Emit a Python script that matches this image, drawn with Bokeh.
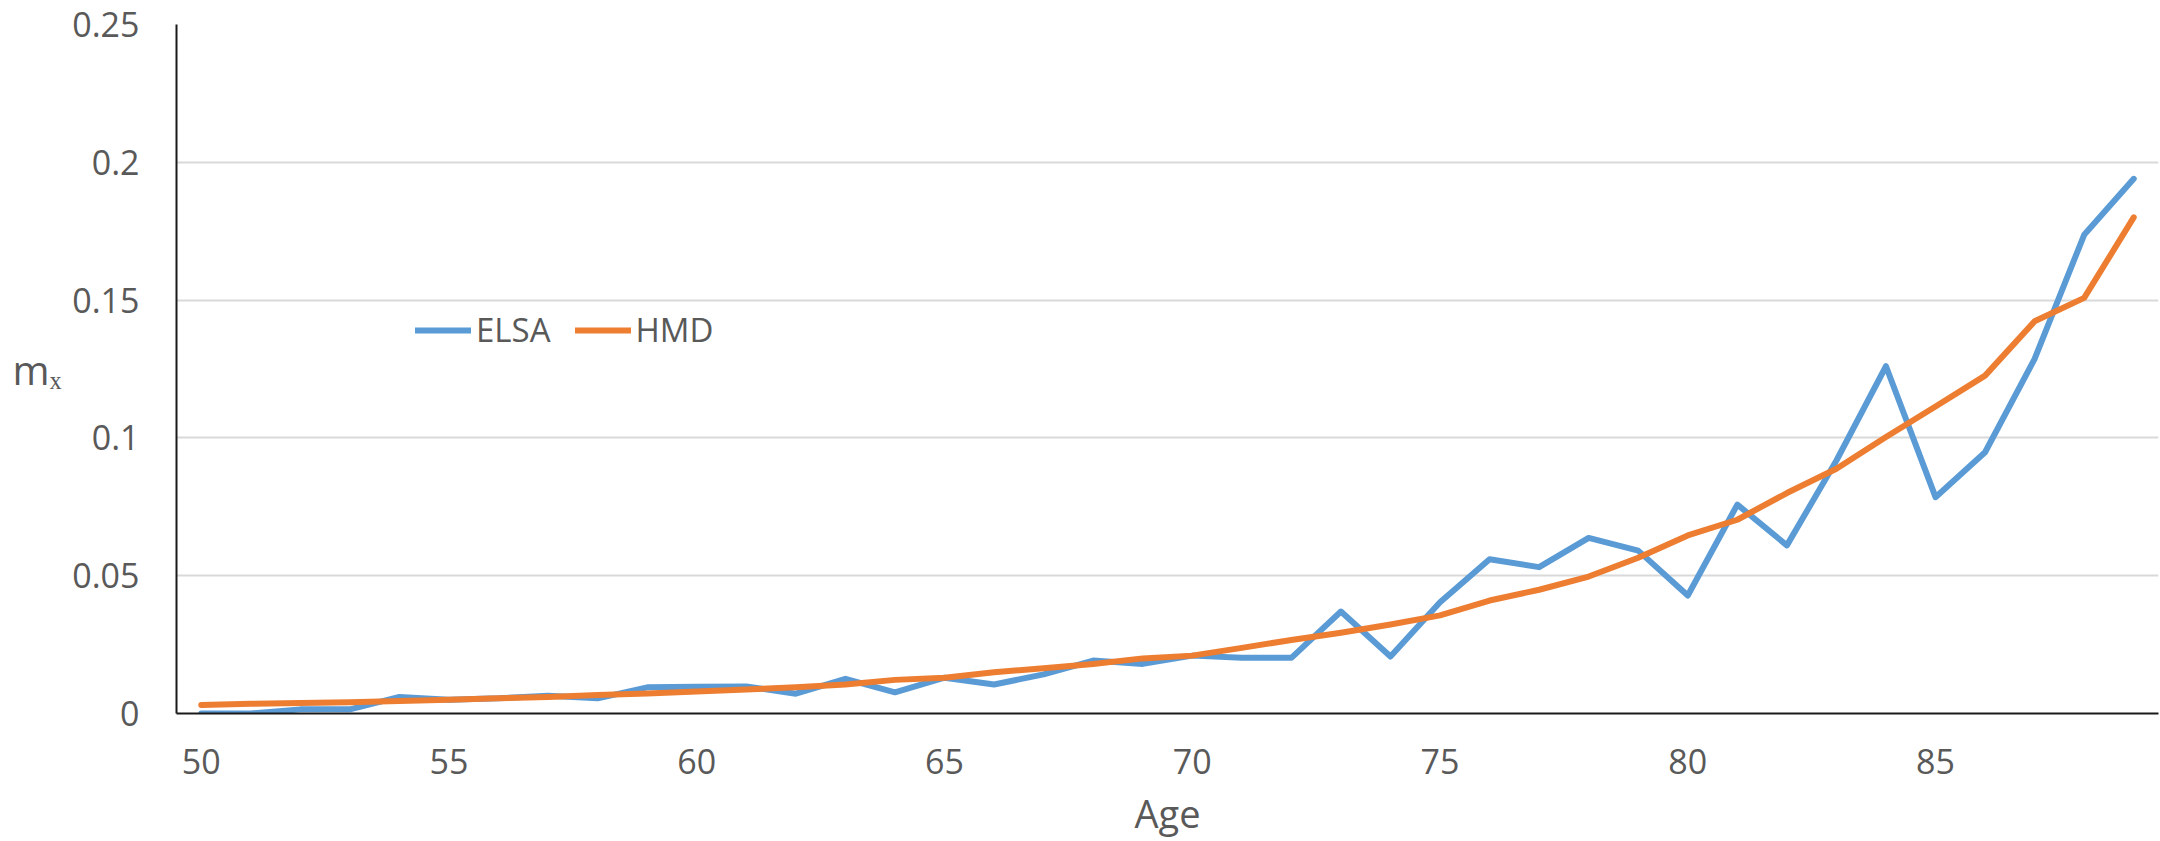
from bokeh.plotting import figure
from bokeh.models import ColumnDataSource, FixedTicker, Legend, LegendItem
from bokeh.embed import file_html
from bokeh.resources import INLINE

# ---- data ----
ages = list(range(50, 90))
elsa = [0.0, 0.0, 0.0015, 0.0015, 0.006, 0.005, 0.0055, 0.0064, 0.0055, 0.0095,
        0.0097, 0.0098, 0.0072, 0.0126, 0.0077, 0.013, 0.0105, 0.0142, 0.0192, 0.018,
        0.021, 0.0202, 0.0202, 0.037, 0.0207, 0.0404, 0.056, 0.0531, 0.0637, 0.0591,
        0.0428, 0.0758, 0.061, 0.0918, 0.126, 0.0785, 0.0948, 0.1287, 0.1737, 0.194]
hmd = [0.0031, 0.0035, 0.0038, 0.0041, 0.0045, 0.005, 0.0055, 0.006, 0.0067, 0.0073,
       0.008, 0.0087, 0.0095, 0.0105, 0.0122, 0.013, 0.015, 0.0164, 0.018, 0.020,
       0.021, 0.0238, 0.0267, 0.0293, 0.0323, 0.0356, 0.041, 0.0449, 0.0497, 0.0565,
       0.0646, 0.0703, 0.080, 0.0888, 0.1003, 0.1114, 0.1226, 0.1423, 0.1508, 0.180]
series_names = ["ELSA", "HMD"]
x_ticks = [50, 55, 60, 65, 70, 75, 80, 85]
y_ticks = [0, 0.05, 0.1, 0.15, 0.2, 0.25]
y_tick_labels = ["0", "0.05", "0.1", "0.15", "0.2", "0.25"]
x_title = "Age"
y_title = "m\u2093"

FONT = "Open Sans"
TXT = "#595959"
BLUE = "#5b9bd5"
ORANGE = "#ed7d31"

src = ColumnDataSource(dict(age=ages, elsa=elsa, hmd=hmd))

p = figure(width=2160, height=841, output_backend="svg", toolbar_location=None,
           x_range=(49.5, 89.5), y_range=(0, 0.25),
           min_border_left=176, min_border_right=2, min_border_top=24, min_border_bottom=128)
p.outline_line_color = None
p.background_fill_color = "white"
p.border_fill_color = "white"

r1 = p.line("age", "elsa", source=src, line_color=BLUE, line_width=6,
            line_join="round", line_cap="round")
r2 = p.line("age", "hmd", source=src, line_color=ORANGE, line_width=6,
            line_join="round", line_cap="round")

# axes
p.xaxis.ticker = FixedTicker(ticks=x_ticks)
p.yaxis.ticker = FixedTicker(ticks=y_ticks)
p.yaxis.major_label_overrides = {t: l for t, l in zip(y_ticks, y_tick_labels)}
for ax in (p.xaxis, p.yaxis):
    ax.major_tick_line_color = None
    ax.minor_tick_line_color = None
    ax.major_tick_out = 0
    ax.major_tick_in = 0
    ax.major_label_text_font = FONT
    ax.major_label_text_font_size = "34px"
    ax.major_label_text_color = TXT
    ax.axis_line_color = "#1a1a1a"
    ax.axis_line_width = 2
p.xaxis.major_label_standoff = 35
p.yaxis.major_label_standoff = 37

p.xaxis.axis_label = x_title
p.xaxis.axis_label_text_font = FONT
p.xaxis.axis_label_text_font_size = "38px"
p.xaxis.axis_label_text_font_style = "normal"
p.xaxis.axis_label_text_color = TXT
p.xaxis.axis_label_standoff = 10

p.yaxis.axis_label = y_title
p.yaxis.axis_label_orientation = "horizontal"
p.yaxis.axis_label_text_font = FONT
p.yaxis.axis_label_text_font_size = "40px"
p.yaxis.axis_label_text_font_style = "normal"
p.yaxis.axis_label_text_color = TXT
p.yaxis.axis_label_standoff = 8

p.xgrid.grid_line_color = None
p.ygrid.ticker = FixedTicker(ticks=y_ticks)
p.ygrid.grid_line_color = "#d9d9d9"
p.ygrid.grid_line_width = 2

legend = Legend(items=[LegendItem(label=series_names[0], renderers=[r1]),
                       LegendItem(label=series_names[1], renderers=[r2])],
                location=(239, 361), orientation="horizontal",
                glyph_width=56, glyph_height=40, label_standoff=5, spacing=24,
                padding=0, margin=0, border_line_color=None, background_fill_alpha=0,
                label_text_font=FONT, label_text_font_size="33px", label_text_color=TXT)
p.add_layout(legend)

open("out.html", "w").write(file_html(p, INLINE))
